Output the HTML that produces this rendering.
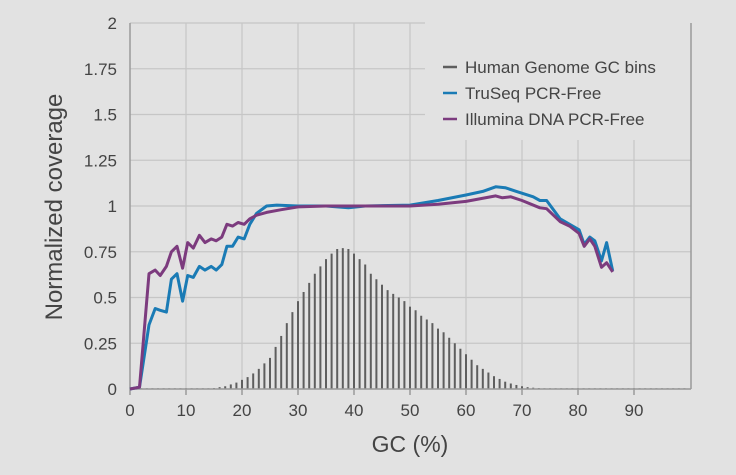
<!DOCTYPE html>
<html><head><meta charset="utf-8"><style>
html,body{margin:0;padding:0;background:#e2e2e2}
svg{display:block;font-family:"Liberation Sans",sans-serif}
</style></head><body>
<svg id="s" width="736" height="475" viewBox="0 0 736 475" xmlns="http://www.w3.org/2000/svg">
<rect width="736" height="475" fill="#e2e2e2"/>
<g id="grid" stroke="#c6c6c6" stroke-width="1.2"></g>
<rect x="425" y="40" width="262" height="100" fill="#e2e2e2"/>
<g id="bars" stroke="#5e5e5e" stroke-width="2"></g>
<g stroke="#9a9a9a" stroke-width="1.5" fill="none">
<line x1="130" y1="23" x2="130" y2="389"/>
<line x1="130" y1="389" x2="691" y2="389"/>
<line x1="691" y1="23" x2="691" y2="389"/>
</g>
<g id="ticks" stroke="#9a9a9a" stroke-width="1.5"></g>
<polyline id="blue" fill="none" stroke="#1a7bb5" stroke-width="3" stroke-linejoin="round"/>
<polyline id="purp" fill="none" stroke="#7c3b7e" stroke-width="3" stroke-linejoin="round"/>
<g fill="#444" font-size="17" text-anchor="end" id="yl"></g>
<g fill="#444" font-size="17" text-anchor="middle" id="xl"></g>
<text x="410" y="452" font-size="23" fill="#444" text-anchor="middle">GC (%)</text>
<text transform="translate(62,207) rotate(-90)" font-size="24" fill="#444" text-anchor="middle">Normalized coverage</text>
<g font-size="17" fill="#444">
<line x1="443" y1="67" x2="457" y2="67" stroke="#5e5e5e" stroke-width="2.5"/><text x="465" y="73">Human Genome GC bins</text>
<line x1="443" y1="93" x2="457" y2="93" stroke="#1a7bb5" stroke-width="2.5"/><text x="465" y="99">TruSeq PCR-Free</text>
<line x1="443" y1="119" x2="457" y2="119" stroke="#7c3b7e" stroke-width="2.5"/><text x="465" y="125">Illumina DNA PCR-Free</text>
</g>
</svg>
<script>
var NS="http://www.w3.org/2000/svg";
function X(g){return 130+g*5.6}function Y(v){return 389-v*183}
function el(p,t,a){var e=document.createElementNS(NS,t);for(var k in a)e.setAttribute(k,a[k]);document.getElementById(p).appendChild(e);return e}
for(var i=0;i<=8;i++){var v=i*0.25,y=Y(v);el('grid','line',{x1:130,x2:(i>=6?425:691),y1:y,y2:y});
var t=el('yl','text',{x:117,y:y+6});t.textContent=(v===0?'0':String(v));}
for(var g=10;g<=90;g+=10){el('grid','line',{x1:X(g),x2:X(g),y1:(X(g)>425?140:23),y2:389});}
for(var g=0;g<=90;g+=10){el('ticks','line',{x1:X(g),x2:X(g),y1:389,y2:395});var t=el('xl','text',{x:X(g),y:416});t.textContent=g;}
var b={15:.005,16:.01,17:.015,18:.025,19:.035,20:.05,21:.065,22:.085,23:.11,24:.14,25:.17,26:.23,27:.29,28:.36,29:.42,30:.48,31:.53,32:.58,33:.63,34:.67,35:.71,36:.74,37:.765,38:.77,39:.765,40:.74,41:.71,42:.68,43:.63,44:.6,45:.57,46:.54,47:.52,48:.5,49:.48,50:.45,51:.43,52:.40,53:.38,54:.36,55:.33,56:.31,57:.28,58:.25,59:.22,60:.19,61:.16,62:.13,63:.11,64:.09,65:.07,66:.055,67:.04,68:.03,69:.022,70:.015,71:.01,72:.007,73:.005};
for(var g=1;g<=99;g++){var v=b[g]||0.004;el('bars','line',{x1:X(g),x2:X(g),y1:389,y2:Y(v)});}
var B=[[0,0],[1.7,.01],[3.4,.35],[4.5,.44],[5.4,.43],[6.5,.42],[7.4,.6],[8.4,.63],[9.4,.48],[10.3,.62],[11.3,.61],[12.4,.67],[13.4,.65],[14.5,.67],[15.4,.65],[16.4,.68],[17.3,.78],[18.3,.78],[19.3,.83],[20.4,.82],[21.4,.9],[22.6,.96],[24.4,1.0],[26.2,1.005],[30,1.0],[35,1.0],[39,.99],[42,1.0],[50,1.005],[55,1.03],[60,1.06],[63,1.08],[65.3,1.105],[67,1.1],[69,1.08],[72,1.05],[73.2,1.03],[74.4,1.03],[76.8,.93],[78.5,.9],[80.2,.87],[81.1,.79],[82.1,.83],[83,.81],[84.2,.70],[85.1,.80],[86.2,.645]];
var P=[[0,0],[1.7,.01],[3.4,.63],[4.5,.65],[5.4,.62],[6.5,.67],[7.4,.75],[8.4,.78],[9.4,.66],[10.3,.80],[11.3,.77],[12.4,.84],[13.4,.80],[14.5,.82],[15.4,.81],[16.4,.83],[17.3,.90],[18.3,.89],[19.3,.91],[20.4,.90],[21.4,.93],[22.6,.95],[24.4,.965],[27,.98],[30,.995],[35,1.0],[50,1.0],[55,1.01],[60,1.025],[65.3,1.055],[66.5,1.045],[68,1.05],[70,1.03],[73.2,.99],[74.4,.985],[76.8,.915],[78.5,.89],[80.2,.85],[81.1,.78],[82.1,.82],[83,.78],[84.2,.665],[85.1,.69],[86.2,.64]];
function pts(a){return a.map(function(p){return X(p[0]).toFixed(1)+','+Y(p[1]).toFixed(1)}).join(' ')}
document.getElementById('blue').setAttribute('points',pts(B));
document.getElementById('purp').setAttribute('points',pts(P));
</script>
</body></html>
